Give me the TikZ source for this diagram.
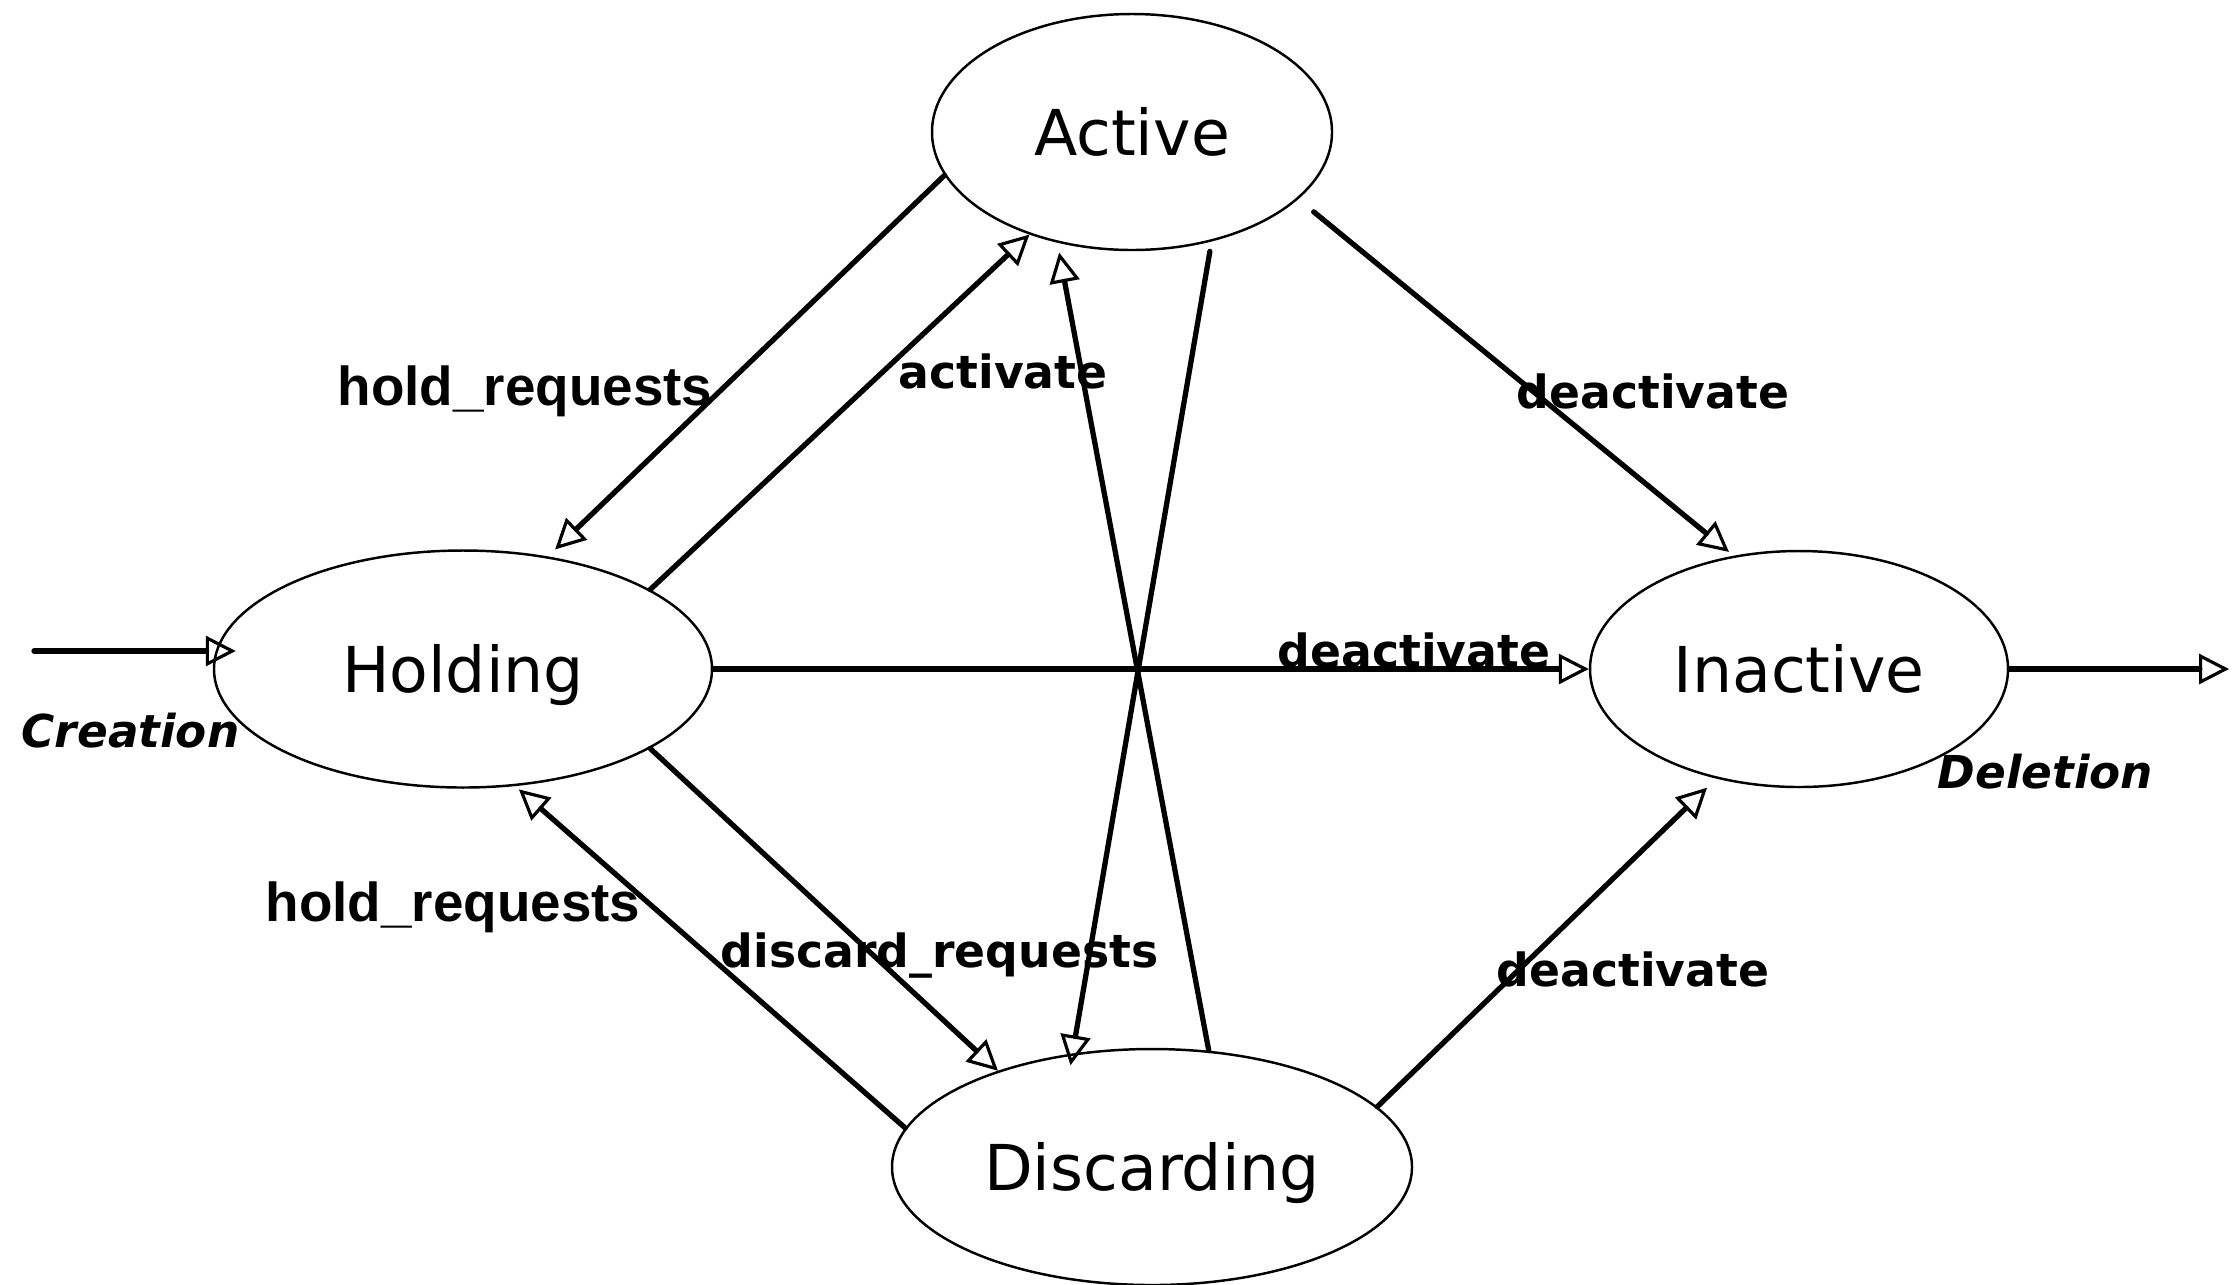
\documentclass[tikz,border=0pt]{standalone}
\usepackage{fontspec}
\setmainfont{DejaVu Sans}
\newfontfamily\helv{Liberation Sans}
\usetikzlibrary{arrows.meta,shapes.geometric,calc}
\begin{document}
\begin{tikzpicture}[
  state/.style={ellipse, draw, line width=0.7pt, inner sep=0pt,
    font=\fontsize{18}{22}\selectfont, text height=13.1pt, text depth=0pt},
  conn/.style={line width=1.5pt, line cap=round,
    -{Triangle[open, length=0.3cm, width=0.3cm, line width=0.9pt]}},
  lbl/.style={anchor=base west, inner sep=0pt, font=\bfseries\fontsize{13}{15}\selectfont},
  hlbl/.style={anchor=base west, inner sep=0pt, font=\helv\bfseries\fontsize{15.6}{18}\selectfont},
  elbl/.style={anchor=base west, inner sep=0pt, font=\bfseries\itshape\fontsize{12.9}{15}\selectfont},
]
\useasboundingbox[fill=white] (0,0) rectangle (22.38,-12.84);

% states
\node[state, minimum width=4.00cm, minimum height=2.36cm] (A) at (11.32,-1.32) {Active};
\node[state, minimum width=4.98cm, minimum height=2.37cm] (H) at (4.63,-6.69) {Holding};
\node[state, minimum width=4.18cm, minimum height=2.36cm] (I) at (17.99,-6.69) {Inactive};
\node[state, minimum width=5.20cm, minimum height=2.36cm] (D) at (11.52,-11.67) {Discarding};

% free ends
\coordinate (cre) at (0.34,-6.51);
\coordinate (del) at (22.29,-6.69);

% transitions
\draw[conn, shorten >=0.1cm] (A.193) -- (H.53);
\draw[conn] (H.23) -- (A.225);
\draw[conn, shorten >=0.1cm] (D.64) -- (A.236);
\draw[conn, shorten <=0.1cm, shorten >=-0.12cm] (A.306) -- (D.125);
\draw[conn, shorten <=0.2cm, shorten >=0.06cm] (A.338) -- (I.120);
\draw[conn] (H.east) -- (I.west);
\draw[conn] (H.337) -- (D.148);
\draw[conn, shorten >=0.05cm] (D.171) -- (H.294);
\draw[conn, shorten >=0.13cm] (D.15) -- (I.233);
\draw[conn] (cre) -- ($(cre -| H.west)+(0.23,0)$);
\draw[conn] (I.east) -- (del);

% labels
\node[hlbl] (l1) at (3.37,-4.05) {hold\_requests};
\node[lbl]  (l2) at (8.98,-3.88) {activate};
\node[lbl]  (l3) at (15.16,-4.08) {deactivate};
\node[lbl]  (l4) at (12.77,-6.67) {deactivate};
\node[lbl]  (l5) at (14.96,-9.86) {deactivate};
\node[lbl]  (l6) at (7.20,-9.67) {discard\_requests};
\node[hlbl] (l7) at (2.65,-9.21) {hold\_requests};
\node[elbl] (l8) at (0.21,-7.47) {Creation};
\node[elbl] (l9) at (19.37,-7.88) {Deletion};
\end{tikzpicture}
\end{document}
